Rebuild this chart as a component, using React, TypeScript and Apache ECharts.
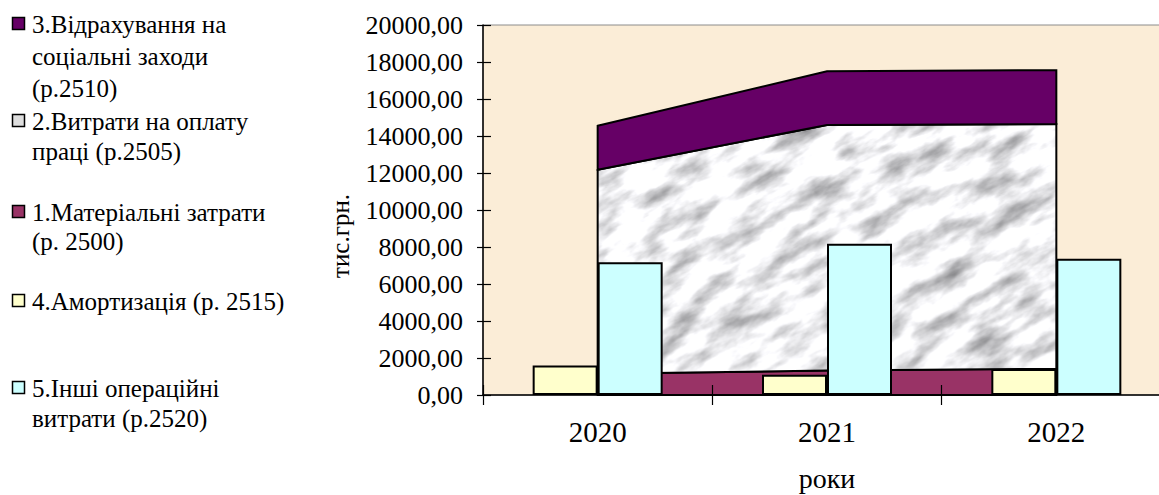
import React, { useEffect, useRef } from "react";
import * as echarts from "echarts";

// Роки
const years = ["2020", "2021", "2022"];
// 1. Матеріальні затрати (р. 2500), тис. грн
const materialCosts = [1150, 1320, 1420];
// 2. Витрати на оплату праці (р. 2505), тис. грн
const laborCosts = [11020, 13280, 13230];
// 3. Відрахування на соціальні заходи (р. 2510), тис. грн
const socialDeductions = [2380, 2900, 2910];
// 4. Амортизація (р. 2515), тис. грн
const amortization = [1590, 1090, 1400];
// 5. Інші операційні витрати (р. 2520), тис. грн
const otherExpenses = [7170, 8170, 7370];

// Value axis range
const yMin = 0;
const yMax = 20000;
const yStep = 2000;

const legendLabels = [
  "3.Відрахування на\nсоціальні заходи\n(р.2510)",
  "2.Витрати на оплату\nпраці (р.2505)",
  "1.Матеріальні затрати\n(р. 2500)",
  "4.Амортизація (р. 2515)",
  "5.Інші операційні\nвитрати (р.2520)",
];

const FONT = "Liberation Serif";
const PURPLE = "#660066";
const MAROON = "#993366";
const YELLOW = "#FFFFCC";
const CYAN = "#CCFFFF";
const PLOT_BG = "#FBEDD7";

// Grey marble texture used to fill the wage layer
const TEX_W = 1160;
const TEX_H = 500;
const marbleSvg =
  `<svg xmlns='http://www.w3.org/2000/svg' width='${TEX_W}' height='${TEX_H}'>` +
  "<filter id='m' x='0' y='0' width='100%' height='100%' color-interpolation-filters='sRGB'>" +
  "<feTurbulence type='fractalNoise' baseFrequency='0.02 0.05' numOctaves='5' seed='11'/>" +
  "<feColorMatrix type='matrix' values='0.95 0 0 0 0.46  0.95 0 0 0 0.46  0.95 0 0 0 0.47  0 0 0 0 1'/>" +
  "</filter>" +
  `<g transform='rotate(-30 ${TEX_W / 2} ${TEX_H / 2})'><rect x='-400' y='-500' width='${TEX_W + 800}' height='${TEX_H + 1000}' filter='url(#m)'/></g>` +
  "</svg>";
const marbleFill = {
  image: "data:image/svg+xml;charset=utf-8," + encodeURIComponent(marbleSvg),
  repeat: "no-repeat",
  imageWidth: TEX_W,
  imageHeight: TEX_H,
};

const fmt = (v: number) => v.toFixed(2).replace(".", ",");

export default function App() {
  const ref = useRef<HTMLDivElement>(null);

  useEffect(() => {
    if (!ref.current) return;
    const chart = echarts.init(ref.current, undefined, { renderer: "svg" });

    const base1 = years.map(() => 0);
    const base2 = materialCosts.map((v, i) => base1[i] + v);
    const base3 = laborCosts.map((v, i) => base2[i] + v);

    const areaLayer = (name: string, values: number[], base: number[], fill: any) => ({
      type: "custom",
      name,
      z: 1,
      xAxisIndex: 0,
      yAxisIndex: 0,
      data: years.map((_, i) => [i, base[i] + values[i]]),
      renderItem: (params: any, api: any) => {
        if (params.dataIndex !== 0) return null;
        const top = years.map((_, i) => api.coord([i, base[i] + values[i]]));
        const bottom = years.map((_, i) => api.coord([i, base[i]])).reverse();
        return {
          type: "polygon",
          shape: { points: top.concat(bottom) },
          style: { fill, stroke: "#000", lineWidth: 2, lineJoin: "miter" },
        };
      },
    });

    // Legend drawn at the left: swatch + wrapped caption per entry
    const legendSwatches = [PURPLE, "#DEDEDE", MAROON, YELLOW, CYAN];
    const legendY = [24, 121, 212, 301, 388];
    const legendLineHeight = [32, 30, 29, 30, 30];
    const legendGraphics: any[] = [];
    legendLabels.forEach((label, i) => {
      legendGraphics.push({
        type: "rect",
        shape: { x: 12.5, y: legendY[i] - 6.5, width: 12, height: 12 },
        style: { fill: legendSwatches[i], stroke: "#000", lineWidth: 1.5 },
      });
      legendGraphics.push({
        type: "text",
        x: 32,
        y: legendY[i] - legendLineHeight[i] / 2,
        style: {
          text: label,
          fontSize: 25,
          fontFamily: FONT,
          fill: "#000",
          lineHeight: legendLineHeight[i],
          verticalAlign: "top",
          align: "left",
        },
      });
    });

    const option: any = {
      animation: false,
      backgroundColor: "#FFFFFF",
      textStyle: { fontFamily: FONT },
      grid: {
        left: 483,
        top: 25,
        right: -12,
        bottom: 100,
        outerBoundsMode: "none",
        containLabel: false,
        show: true,
        backgroundColor: PLOT_BG,
        borderColor: "#8C8C8C",
        borderWidth: 1,
      },
      xAxis: [
        {
          type: "category",
          data: years,
          position: "bottom",
          z: 5,
          boundaryGap: true,
          axisLine: { show: true, lineStyle: { color: "#000", width: 1.5 } },
          axisTick: { show: true, inside: false, length: 10, lineStyle: { color: "#000", width: 1.2 } },
          axisLabel: { show: true, margin: 22, color: "#000", fontSize: 29, fontFamily: FONT },
          name: "роки",
          nameLocation: "middle",
          nameGap: 69,
          nameTextStyle: { color: "#000", fontSize: 28, fontFamily: FONT },
          splitLine: { show: false },
        },
        {
          type: "category",
          data: years,
          position: "bottom",
          z: 5,
          boundaryGap: true,
          axisLine: { show: false },
          axisTick: { show: true, inside: true, length: 10, lineStyle: { color: "#000", width: 1.2 } },
          axisLabel: { show: false },
          splitLine: { show: false },
        },
      ],
      yAxis: [
        {
          type: "value",
          min: yMin,
          max: yMax,
          interval: yStep,
          position: "left",
          z: 5,
          axisLine: { show: true, lineStyle: { color: "#000", width: 1.5 } },
          axisTick: { show: true, inside: false, length: 6, lineStyle: { color: "#000", width: 1.2 } },
          axisLabel: {
            margin: 20,
            color: "#000",
            fontSize: 26,
            fontFamily: FONT,
            formatter: (v: number) => fmt(v),
          },
          splitLine: { show: false },
        },
        {
          type: "value",
          min: yMin,
          max: yMax,
          interval: yStep,
          position: "left",
          z: 5,
          axisLine: { show: false },
          axisTick: { show: true, inside: true, length: 8, lineStyle: { color: "#000", width: 1.2 } },
          axisLabel: { show: false },
          splitLine: { show: false },
        },
      ],
      graphic: [
        ...legendGraphics,
        {
          type: "text",
          x: 340,
          y: 236,
          rotation: Math.PI / 2,
          style: {
            text: "тис.грн.",
            fontSize: 25,
            fontFamily: FONT,
            fill: "#000",
            align: "center",
            verticalAlign: "middle",
          },
        },
      ],
      series: [
        areaLayer("1.Матеріальні затрати (р. 2500)", materialCosts, base1, MAROON),
        areaLayer("2.Витрати на оплату праці (р.2505)", laborCosts, base2, marbleFill),
        areaLayer("3.Відрахування на соціальні заходи (р.2510)", socialDeductions, base3, PURPLE),
        {
          type: "bar",
          name: "4.Амортизація (р. 2515)",
          data: amortization,
          z: 3,
          barWidth: 65,
          barGap: "0%",
          itemStyle: { color: YELLOW, borderColor: "#000", borderWidth: 2 },
        },
        {
          type: "bar",
          name: "5.Інші операційні витрати (р.2520)",
          data: otherExpenses,
          z: 3,
          barWidth: 65,
          barGap: "0%",
          itemStyle: { color: CYAN, borderColor: "#000", borderWidth: 2 },
        },
      ],
    };

    chart.setOption(option);
    return () => chart.dispose();
  }, []);

  return (
    <div
      ref={ref}
      style={{ position: "fixed", left: 0, top: 0, width: 1159, height: 495 }}
    />
  );
}
